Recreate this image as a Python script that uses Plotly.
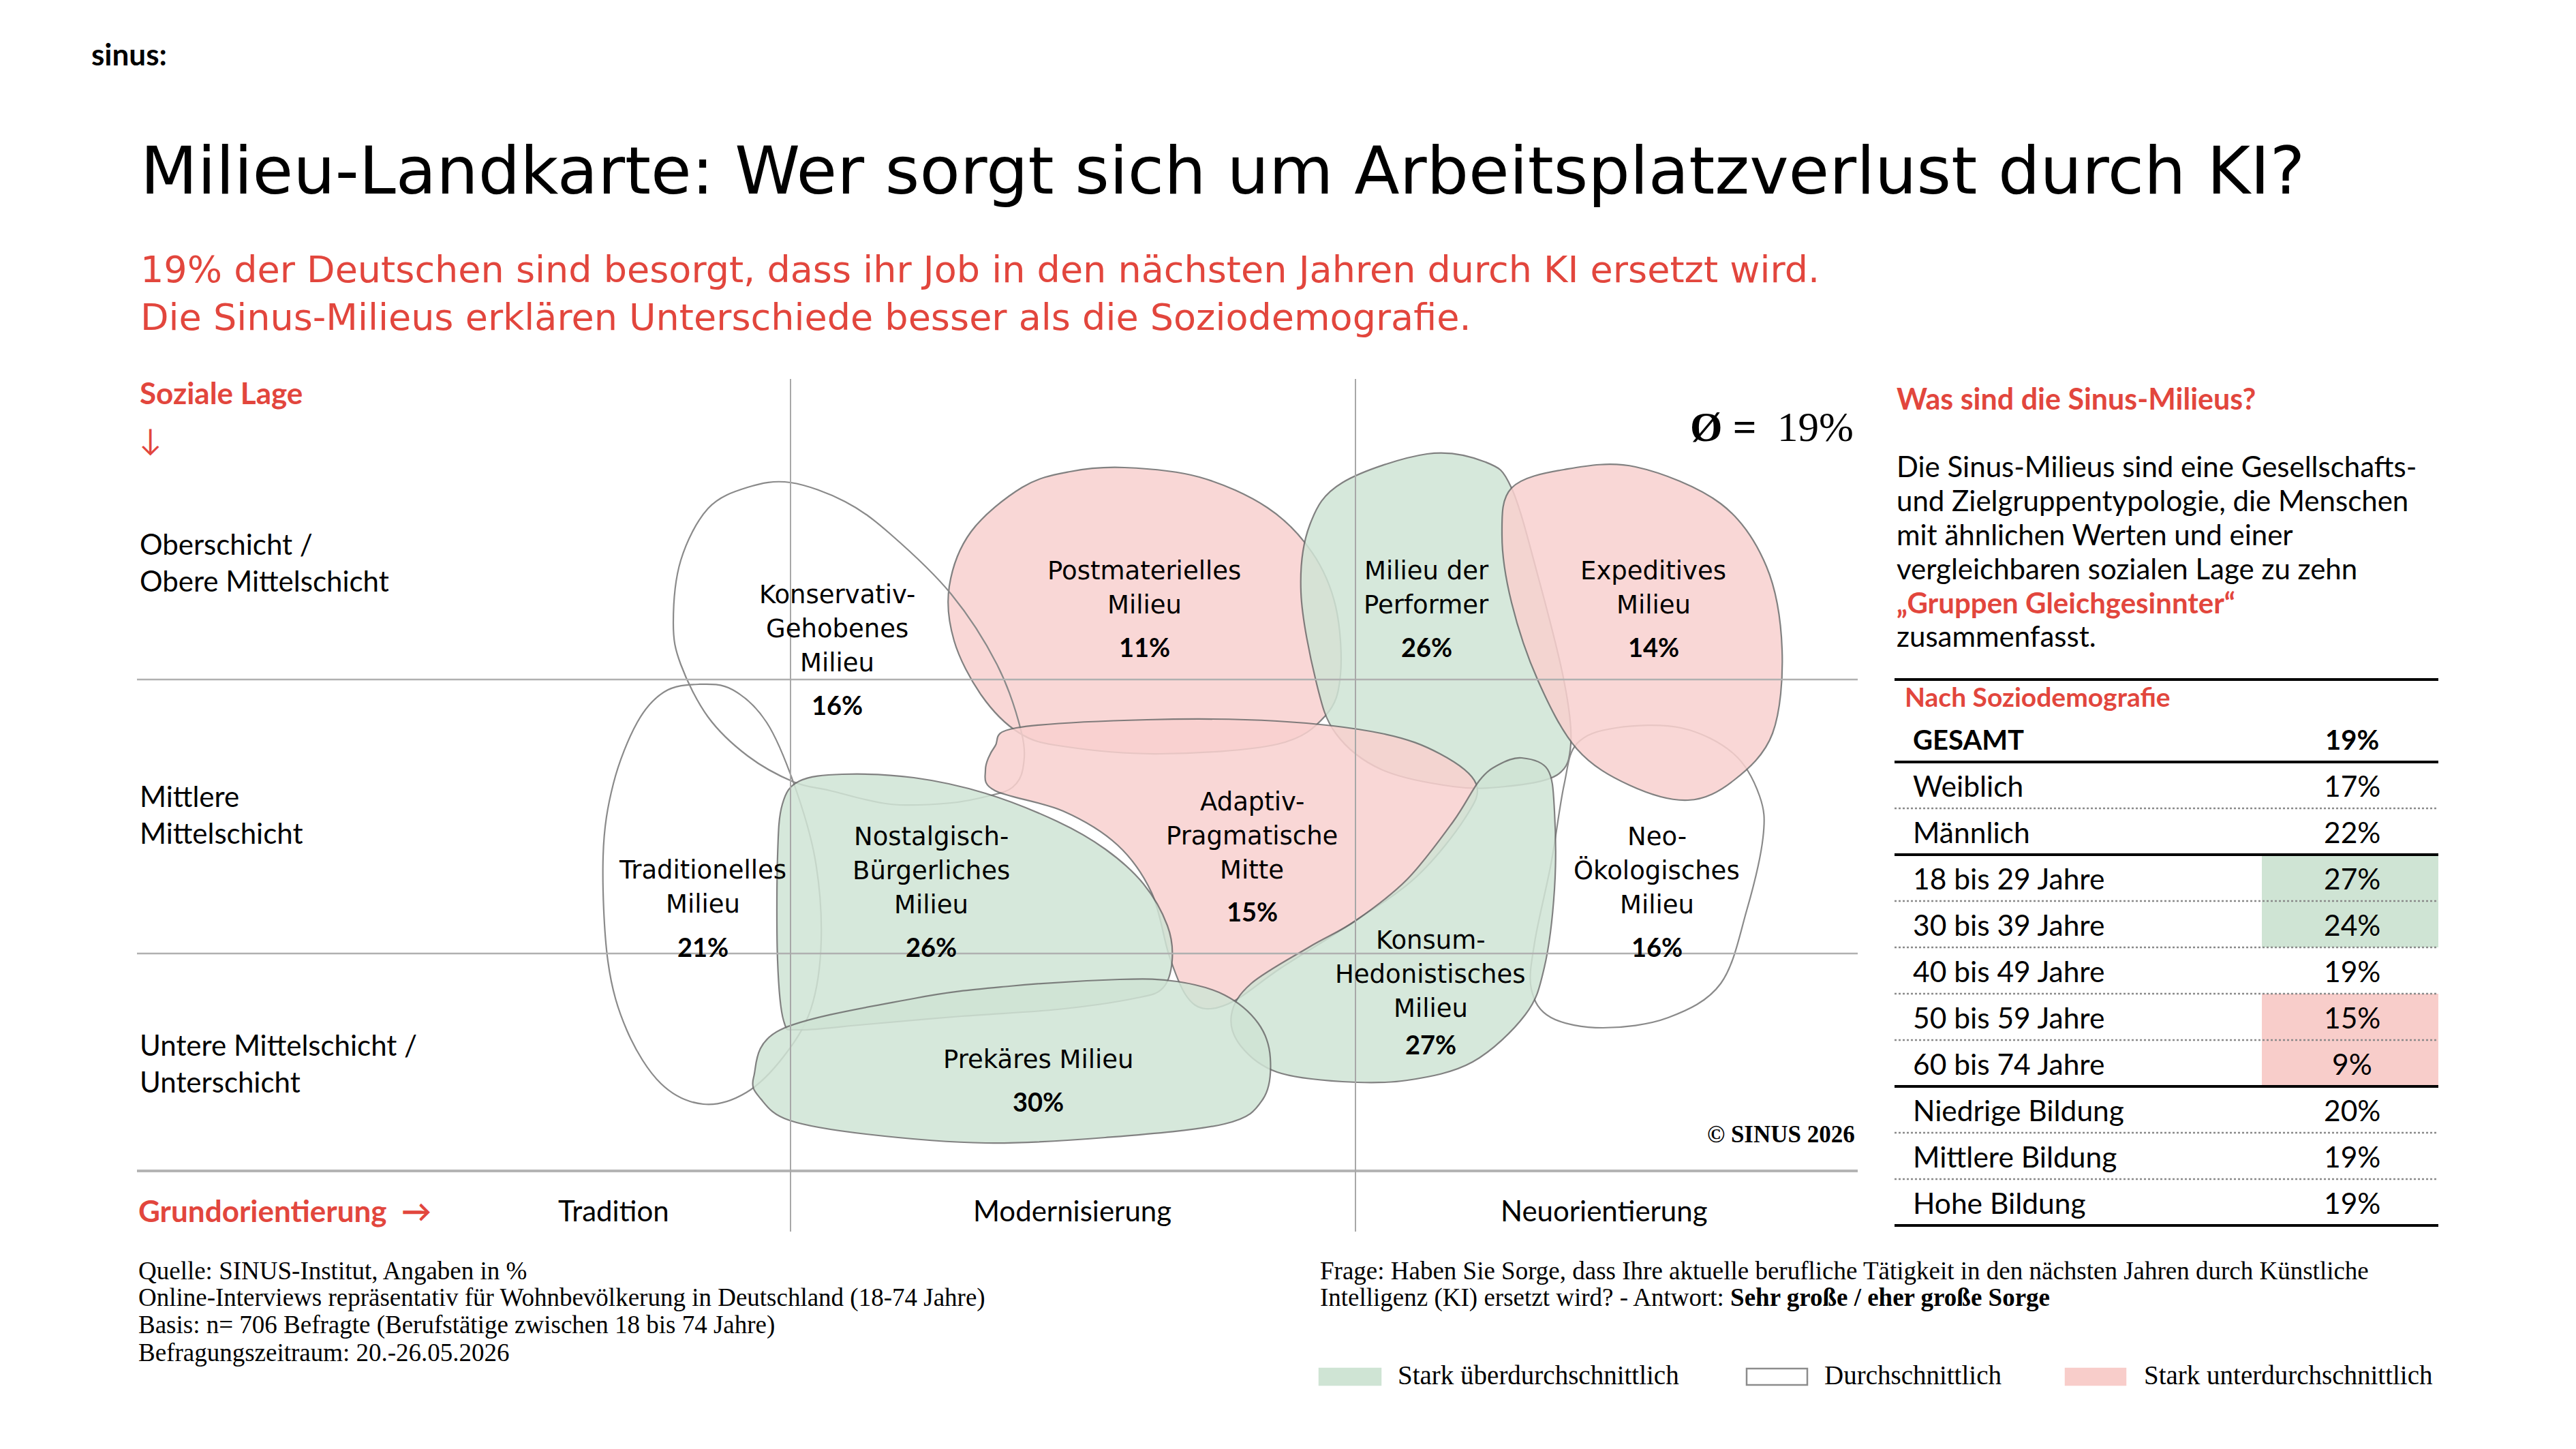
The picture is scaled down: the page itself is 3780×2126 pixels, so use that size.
import plotly.graph_objects as go

W, H = 3780, 2126
OFF = 8  # page body margin of the browser

# ---------------- data ----------------
milieu_names = [
    "Konservativ-Gehobenes Milieu", "Postmaterielles Milieu", "Milieu der Performer",
    "Expeditives Milieu", "Traditionelles Milieu", "Nostalgisch-Bürgerliches Milieu",
    "Adaptiv-Pragmatische Mitte", "Neo-Ökologisches Milieu",
    "Konsum-Hedonistisches Milieu", "Prekäres Milieu",
]
milieu_label_lines = [
    ["Konservativ-", "Gehobenes", "Milieu"], ["Postmaterielles", "Milieu"],
    ["Milieu der", "Performer"], ["Expeditives", "Milieu"],
    ["Traditionelles", "Milieu"], ["Nostalgisch-", "Bürgerliches", "Milieu"],
    ["Adaptiv-", "Pragmatische", "Mitte"], ["Neo-", "Ökologisches", "Milieu"],
    ["Konsum-", "Hedonistisches", "Milieu"], ["Prekäres Milieu"],
]
milieu_share = [16, 11, 26, 14, 21, 26, 15, 16, 27, 30]
milieu_level = ["avg", "below", "above", "below", "avg", "above", "below", "avg", "above", "above"]
total_share = 19

social_labels = [["Oberschicht /", "Obere Mittelschicht"], ["Mittlere", "Mittelschicht"],
                 ["Untere Mittelschicht /", "Unterschicht"]]
orientation_labels = ["Tradition", "Modernisierung", "Neuorientierung"]

demo_labels = ["GESAMT", "Weiblich", "Männlich", "18 bis 29 Jahre", "30 bis 39 Jahre",
               "40 bis 49 Jahre", "50 bis 59 Jahre", "60 bis 74 Jahre",
               "Niedrige Bildung", "Mittlere Bildung", "Hohe Bildung"]
demo_values = [19, 17, 22, 27, 24, 19, 15, 9, 20, 19, 19]
demo_level = ["avg", "avg", "avg", "above", "above", "avg", "below", "below", "avg", "avg", "avg"]
demo_group = [0, 1, 1, 2, 2, 2, 2, 2, 3, 3, 3]

legend_labels = ["Stark überdurchschnittlich", "Durchschnittlich", "Stark unterdurchschnittlich"]
legend_levels = ["above", "avg", "below"]

# ---------------- styles ----------------
RED = "#e2463d"
SANS = "Lato, 'Open Sans', sans-serif"
WIDE = "'DejaVu Sans', sans-serif"
SERIF = "'Liberation Serif', 'DejaVu Serif', serif"
FILL = {"above": "rgb(208,228,213)", "below": "rgb(249,209,207)", "avg": "rgba(0,0,0,0)"}
CELL = {"above": "#cfe4d4", "below": "#f8cdca", "avg": "#ffffff"}
BLOB_OPACITY = 0.85

# Map frame (map units; y grows downward like "Soziale Lage")
MAP_X = (201, 2726)
MAP_Y = (556, 1807)
GRID_H = [997, 1399]
GRID_BOTTOM = 1718
GRID_V = [1160, 1989]

# blob outlines (anchor points in map units)
OUTLINES = {
    "Konservativ-Gehobenes Milieu": [(1160, 708), (1240, 736), (1307, 784), (1396, 872), (1463, 975), (1499, 1075),
                                     (1501, 1128), (1486, 1155), (1454, 1167), (1396, 1178), (1307, 1180), (1218, 1160),
                                     (1164, 1147), (1097, 1109), (1039, 1052), (999, 975), (988, 914), (999, 822),
                                     (1039, 746), (1097, 715)],
    "Postmaterielles Milieu": [(1650, 686), (1760, 700), (1860, 745), (1925, 810), (1960, 890), (1967, 990),
                               (1945, 1050), (1874, 1092), (1702, 1106), (1560, 1095), (1495, 1075), (1440, 1020),
                               (1400, 940), (1393, 860), (1425, 780), (1500, 715), (1570, 692)],
    "Milieu der Performer": [(1922, 770), (1970, 708), (2094, 666), (2180, 678), (2218, 716), (2257, 846),
                             (2295, 999), (2305, 1091), (2285, 1137), (2209, 1154), (2132, 1154), (2027, 1129),
                             (1960, 1076), (1931, 999), (1909, 869)],
    "Expeditives Milieu": [(2218, 716), (2295, 689), (2400, 685), (2525, 739), (2592, 831), (2615, 953),
                           (2601, 1076), (2544, 1145), (2477, 1174), (2391, 1152), (2314, 1099), (2257, 999),
                           (2218, 884), (2204, 785)],
    "Traditionelles Milieu": [(1025, 1004), (1075, 1012), (1125, 1060), (1165, 1150), (1196, 1260), (1205, 1380),
                              (1190, 1480), (1150, 1550), (1095, 1603), (1032, 1620), (970, 1590), (920, 1512),
                              (892, 1410), (885, 1256), (900, 1150), (935, 1060), (975, 1015)],
    "Nostalgisch-Bürgerliches Milieu": [(1173, 1146), (1236, 1136), (1341, 1141), (1446, 1164), (1551, 1205),
                                        (1622, 1246), (1678, 1297), (1713, 1358), (1720, 1409), (1706, 1450),
                                        (1664, 1465), (1552, 1481), (1411, 1491), (1271, 1503), (1173, 1511),
                                        (1150, 1498), (1141, 1409), (1141, 1256), (1148, 1180)],
    "Adaptiv-Pragmatische Mitte": [(1491, 1068), (1683, 1056), (1874, 1058), (2027, 1076), (2113, 1106),
                                   (2166, 1150), (2150, 1200), (2080, 1285), (1989, 1351), (1880, 1420),
                                   (1812, 1468), (1769, 1480), (1740, 1460), (1715, 1400), (1690, 1310),
                                   (1640, 1240), (1560, 1190), (1460, 1160), (1446, 1130), (1460, 1095)],
    "Neo-Ökologisches Milieu": [(2314, 1091), (2371, 1068), (2467, 1068), (2544, 1106), (2582, 1168),
                                (2587, 1229), (2563, 1336), (2525, 1443), (2448, 1493), (2352, 1508),
                                (2276, 1493), (2247, 1451), (2252, 1382), (2276, 1267), (2295, 1152)],
    "Konsum-Hedonistisches Milieu": [(2199, 1122), (2233, 1112), (2271, 1129), (2281, 1190), (2281, 1305),
                                     (2266, 1420), (2238, 1489), (2161, 1558), (2065, 1585), (1970, 1587),
                                     (1874, 1573), (1821, 1535), (1807, 1489), (1836, 1443), (1922, 1389),
                                     (1989, 1351), (2065, 1290), (2132, 1206), (2171, 1145)],
    "Prekäres Milieu": [(1106, 1580), (1145, 1511), (1341, 1465), (1481, 1447), (1643, 1437), (1727, 1440),
                        (1797, 1460), (1846, 1501), (1864, 1552), (1853, 1613), (1797, 1649), (1622, 1669),
                        (1446, 1677), (1271, 1664), (1159, 1644), (1117, 1613)],
}
# label anchor: centre x, first baseline, line step, pct baseline
LABEL_POS = {
    "Konservativ-Gehobenes Milieu": (1228, 885, 50, 1048),
    "Postmaterielles Milieu": (1679, 850, 50, 963),
    "Milieu der Performer": (2093, 850, 50, 963),
    "Expeditives Milieu": (2426, 850, 50, 963),
    "Traditionelles Milieu": (1031, 1289, 50, 1403),
    "Nostalgisch-Bürgerliches Milieu": (1366, 1240, 50, 1403),
    "Adaptiv-Pragmatische Mitte": (1837, 1189, 50, 1351),
    "Neo-Ökologisches Milieu": (2431, 1240, 50, 1403),
    "Konsum-Hedonistisches Milieu": (2099, 1392, 50, 1546),
    "Prekäres Milieu": (1523, 1567, 50, 1630),
}
DRAW_ORDER = ["Postmaterielles Milieu", "Milieu der Performer", "Neo-Ökologisches Milieu",
              "Expeditives Milieu", "Konservativ-Gehobenes Milieu", "Traditionelles Milieu",
              "Adaptiv-Pragmatische Mitte", "Nostalgisch-Bürgerliches Milieu",
              "Konsum-Hedonistisches Milieu", "Prekäres Milieu"]


def bezier_path(pts):
    n = len(pts)
    d = "M %.1f,%.1f" % pts[0]
    for i in range(n):
        p0, p1, p2, p3 = pts[i - 1], pts[i], pts[(i + 1) % n], pts[(i + 2) % n]
        c1 = (p1[0] + (p2[0] - p0[0]) / 6, p1[1] + (p2[1] - p0[1]) / 6)
        c2 = (p2[0] - (p3[0] - p1[0]) / 6, p2[1] - (p3[1] - p1[1]) / 6)
        d += " C %.1f,%.1f %.1f,%.1f %.1f,%.1f" % (c1 + c2 + p2)
    return d + " Z"


fig = go.Figure()
shapes = []
annos = []


def px(x):
    return (x - OFF) / W


def py(y):
    return 1 - (y - OFF) / H


def text(x, base, s, size, color="black", bold=False, anchor="left", family=SANS, ref="paper", k=0.37):
    yc = base - k * size
    if bold:
        s = "<b>%s</b>" % s
    if ref == "paper":
        xx, yy, xr, yr = px(x), py(yc), "paper", "paper"
    else:
        xx, yy, xr, yr = x, yc, "x", "y"
    annos.append(dict(x=xx, y=yy, xref=xr, yref=yr, text=s, showarrow=False, xanchor=anchor,
                      yanchor="middle", borderpad=0,
                      font=dict(family=family, size=size, color=color)))


# blobs (below the traces)
for name in DRAW_ORDER:
    i = milieu_names.index(name)
    lev = milieu_level[i]
    if lev == "avg":
        shapes.append(dict(type="path", xref="x", yref="y", path=bezier_path(OUTLINES[name]),
                           fillcolor=FILL[lev], line=dict(color="#8a8a8a", width=2.2), layer="below"))
    else:
        shapes.append(dict(type="path", xref="x", yref="y", path=bezier_path(OUTLINES[name]),
                           fillcolor=FILL[lev], opacity=BLOB_OPACITY, line=dict(color="#6c6c6c", width=2.2),
                           layer="below"))

# grid lines as line traces, drawn over the blobs
grid_x, grid_y = [], []
for gy in GRID_H:
    grid_x += [MAP_X[0], MAP_X[1], None]
    grid_y += [gy, gy, None]
fig.add_trace(go.Scatter(x=grid_x, y=grid_y, mode="lines", line=dict(color="#b0b0b0", width=2.5),
                         hoverinfo="skip", showlegend=False))
fig.add_trace(go.Scatter(x=[MAP_X[0], MAP_X[1]], y=[GRID_BOTTOM, GRID_BOTTOM], mode="lines",
                         line=dict(color="#b4b4b4", width=4), hoverinfo="skip", showlegend=False))
vx, vy = [], []
for gx in GRID_V:
    vx += [gx, gx, None]
    vy += [MAP_Y[0], MAP_Y[1], None]
fig.add_trace(go.Scatter(x=vx, y=vy, mode="lines", line=dict(color="#a8a8a8", width=2),
                         hoverinfo="skip", showlegend=False))

# milieu labels
for i, name in enumerate(milieu_names):
    cx, b0, step, pb = LABEL_POS[name]
    for j, ln in enumerate(milieu_label_lines[i]):
        text(cx, b0 + j * step, ln, 37, anchor="center", ref="xy", family=WIDE, k=0.35)
    text(cx, pb, "%d%%" % milieu_share[i], 38, bold=True, anchor="center", ref="xy")

# average
text(2721, 647, "<b>Ø =</b>  %d%%" % total_share, 61, anchor="right", family=SERIF, k=0.34)
text(2723, 1676, "<b>© SINUS 2026</b>", 35, anchor="right", family=SERIF, k=0.34)

# axis labels
text(204, 592, "Soziale Lage", 44, color=RED, bold=True)
text(203, 660, "↓", 44, color=RED)
soc_base = [814, 1184, 1549]
for sb, lines in zip(soc_base, social_labels):
    for j, ln in enumerate(lines):
        text(204, sb + j * 54, ln, 42)
text(202, 1792, "Grundorientierung  →", 44, color=RED, bold=True)
for cx, lab in zip([900, 1573, 2354], orientation_labels):
    text(cx, 1792, lab, 42, anchor="center")

# header
text(133, 95, "<b>sinus:</b>", 44)
text(205, 284, "Milieu-Landkarte: Wer sorgt sich um Arbeitsplatzverlust durch KI?", 97, family=WIDE, k=0.35)
text(205, 414, "19% der Deutschen sind besorgt, dass ihr Job in den nächsten Jahren durch KI ersetzt wird.", 54,
     color=RED, family=WIDE, k=0.35)
text(205, 484, "Die Sinus-Milieus erklären Unterschiede besser als die Soziodemografie.", 54, color=RED,
     family=WIDE, k=0.35)

# side text
text(2782, 600, "Was sind die Sinus-Milieus?", 43, color=RED, bold=True)
para = ["Die Sinus-Milieus sind eine Gesellschafts-", "und Zielgruppentypologie, die Menschen",
        "mit ähnlichen Werten und einer", "vergleichbaren sozialen Lage zu zehn",
        "<b>„Gruppen Gleichgesinnter“</b>", "zusammenfasst."]
for j, ln in enumerate(para):
    text(2782, 700 + j * 49.8, ln, 42, color=RED if j == 4 else "black")

# table
TX0, TX1 = 2780, 3578
VAL_X0 = 3319
shapes.append(dict(type="line", xref="paper", yref="paper", x0=px(TX0), x1=px(TX1), y0=py(997), y1=py(997),
                   line=dict(color="black", width=4)))
text(2794, 1036, "Nach Soziodemografie", 39, color=RED, bold=True)
row_bottom = [1118 + 68 * i for i in range(len(demo_labels))]
for i, lab in enumerate(demo_labels):
    bot = row_bottom[i]
    top = bot - 68 if i > 0 else 1050
    if demo_level[i] != "avg":
        shapes.append(dict(type="rect", xref="paper", yref="paper", x0=px(VAL_X0), x1=px(TX1),
                           y0=py(bot), y1=py(top), fillcolor=CELL[demo_level[i]], line=dict(width=0),
                           layer="below"))
    b = i == 0
    fs = 40 if b else 42.5
    text(2806, bot - 18, lab, fs, bold=b)
    text(3451, bot - 18, "%d%%" % demo_values[i], fs, bold=b, anchor="center")
    last = i == len(demo_labels) - 1
    thick = last or demo_group[i + 1] != demo_group[i]
    if thick:
        shapes.append(dict(type="line", xref="paper", yref="paper", x0=px(TX0), x1=px(TX1), y0=py(bot), y1=py(bot),
                           line=dict(color="black", width=4), layer="above"))
    else:
        shapes.append(dict(type="line", xref="paper", yref="paper", x0=px(TX0), x1=px(TX1), y0=py(bot), y1=py(bot),
                           line=dict(color="#8a8a8a", width=2.5, dash="dot"), layer="above"))

# footer
foot = ["Quelle: SINUS-Institut, Angaben in %",
        "Online-Interviews repräsentativ für Wohnbevölkerung in Deutschland (18-74 Jahre)",
        "Basis: n= 706 Befragte (Berufstätige zwischen 18 bis 74 Jahre)",
        "Befragungszeitraum: 20.-26.05.2026"]
for j, ln in enumerate(foot):
    text(202, 1877 + 40 * j, ln, 37, family=SERIF, k=0.34)
text(1936, 1877, "Frage: Haben Sie Sorge, dass Ihre aktuelle berufliche Tätigkeit in den nächsten Jahren durch Künstliche",
     37, family=SERIF, k=0.34)
text(1936, 1917, "Intelligenz (KI) ersetzt wird? - Antwort: <b>Sehr große / eher große Sorge</b>", 37, family=SERIF,
     k=0.34)

# legend
LEG_BOX = [(1936, 2026), (2563, 2652), (3031, 3119)]
LEG_TXT = [2050, 2676, 3145]
for (x0, x1), tx, lab, lev in zip(LEG_BOX, LEG_TXT, legend_labels, legend_levels):
    shapes.append(dict(type="rect", xref="paper", yref="paper", x0=px(x0), x1=px(x1), y0=py(2032), y1=py(2008),
                       fillcolor=CELL[lev],
                       line=dict(color="#8c8c8c" if lev == "avg" else CELL[lev], width=2.5), layer="above"))
    text(tx, 2031, lab, 39, family=SERIF, k=0.34)

fig.update_layout(
    width=W, height=H, margin=dict(l=0, r=0, t=0, b=0),
    paper_bgcolor="white", plot_bgcolor="rgba(0,0,0,0)",
    xaxis=dict(range=list(MAP_X), domain=[px(MAP_X[0]), px(MAP_X[1])], visible=False, fixedrange=True),
    yaxis=dict(range=[MAP_Y[1], MAP_Y[0]], domain=[py(MAP_Y[1]), py(MAP_Y[0])], visible=False, fixedrange=True),
    shapes=shapes, annotations=annos, showlegend=False,
)
fig.write_html("out.html")
